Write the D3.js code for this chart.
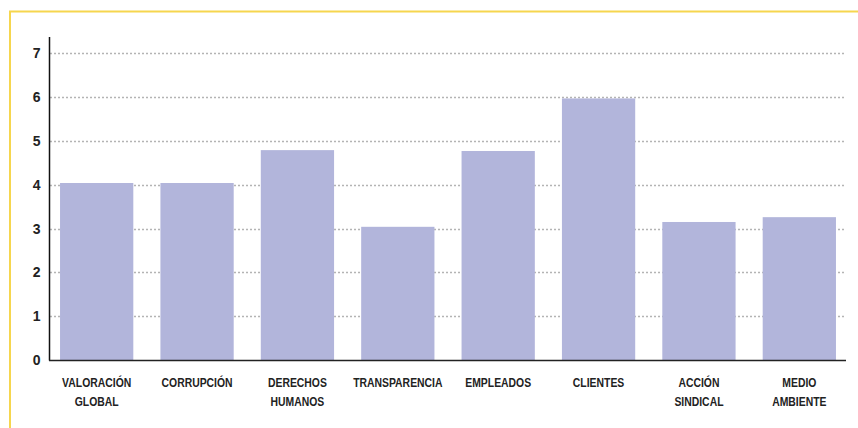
<!DOCTYPE html>
<html>
<head>
<meta charset="utf-8">
<script src="https://cdn.jsdelivr.net/npm/d3@7"></script>
<style>
  body { margin: 0; background: #fff; }
  .ytick text { font-family: "Liberation Sans", Arial, Helvetica, sans-serif; font-weight: bold; font-size: 14px; fill: #222; }
  .xlab { font-family: "Liberation Sans", Arial, Helvetica, sans-serif; font-weight: bold; font-size: 13px; fill: #222; }
</style>
</head>
<body>
<div class="chart"></div>
<script>
// categories, one per bar (line breaks as printed)
var categories = [
  ['VALORACIÓN', 'GLOBAL'],
  ['CORRUPCIÓN'],
  ['DERECHOS', 'HUMANOS'],
  ['TRANSPARENCIA'],
  ['EMPLEADOS'],
  ['CLIENTES'],
  ['ACCIÓN', 'SINDICAL'],
  ['MEDIO', 'AMBIENTE']
];
var values = [4.04, 4.04, 4.79, 3.04, 4.77, 5.97, 3.15, 3.26];
var yTicks = [0, 1, 2, 3, 4, 5, 6, 7];

var W = 858, H = 428;
var x0 = 50, x1 = 846, yBase = 360, yTop = 53.3;

var svg = d3.select('.chart')
  .append('svg')
  .attr('width', W)
  .attr('height', H);

// yellow frame (only top and left show)
svg.append('rect')
  .attr('x', 10).attr('y', 11.5)
  .attr('width', W + 20).attr('height', H + 20)
  .attr('fill', 'none')
  .attr('stroke', '#f6d64e')
  .attr('stroke-width', 2);

var yScale = d3.scaleLinear()
  .domain([0, 7])
  .range([yBase, yTop]);

var xScale = d3.scaleBand()
  .domain(d3.range(categories.length))
  .range([x0, x1])
  .paddingInner(0.27)
  .paddingOuter(0.1);

// dotted gridlines
svg.append('g')
  .selectAll('line')
  .data(yTicks.filter(d => d > 0))
  .enter()
  .append('line')
  .attr('x1', x0)
  .attr('x2', x1)
  .attr('y1', d => Math.round(yScale(d)) + 0.5)
  .attr('y2', d => Math.round(yScale(d)) + 0.5)
  .attr('stroke', '#b4b4b4')
  .attr('stroke-width', 1.5)
  .attr('stroke-dasharray', '2,2');

// bars
svg.selectAll('rect.bar')
  .data(values)
  .enter()
  .append('rect')
  .attr('class', 'bar')
  .attr('x', (d, i) => xScale(i))
  .attr('y', d => yScale(d))
  .attr('width', xScale.bandwidth())
  .attr('height', d => yBase - yScale(d))
  .attr('fill', '#b2b5db');

// y axis
var yAxis = d3.axisLeft(yScale)
  .tickValues(yTicks)
  .tickSize(0)
  .tickPadding(9)
  .tickFormat(d3.format('d'));

var gy = svg.append('g')
  .attr('class', 'ytick')
  .attr('transform', `translate(${x0 - 0.5},0)`)
  .call(yAxis);
gy.select('.domain').remove();
gy.attr('font-family', null).attr('font-size', null);

svg.append('line')
  .attr('x1', x0 - 0.5).attr('x2', x0 - 0.5)
  .attr('y1', 37).attr('y2', yBase + 0.5)
  .attr('stroke', '#111')
  .attr('stroke-width', 1.5);

// baseline
svg.append('line')
  .attr('x1', x0 - 1).attr('x2', x1)
  .attr('y1', yBase + 0.5).attr('y2', yBase + 0.5)
  .attr('stroke', '#222')
  .attr('stroke-width', 1.5);

// category labels (condensed look via horizontal squeeze)
var labels = svg.append('g')
  .selectAll('text')
  .data(categories)
  .enter()
  .append('text')
  .attr('class', 'xlab')
  .attr('text-anchor', 'middle')
  .attr('transform', (d, i) => `translate(${xScale(i) + xScale.bandwidth() / 2},386.5) scale(0.8,1)`);

labels.selectAll('tspan')
  .data(d => d)
  .enter()
  .append('tspan')
  .attr('x', 0)
  .attr('dy', (d, i) => i === 0 ? 0 : 20)
  .text(d => d);
</script>
</body>
</html>
